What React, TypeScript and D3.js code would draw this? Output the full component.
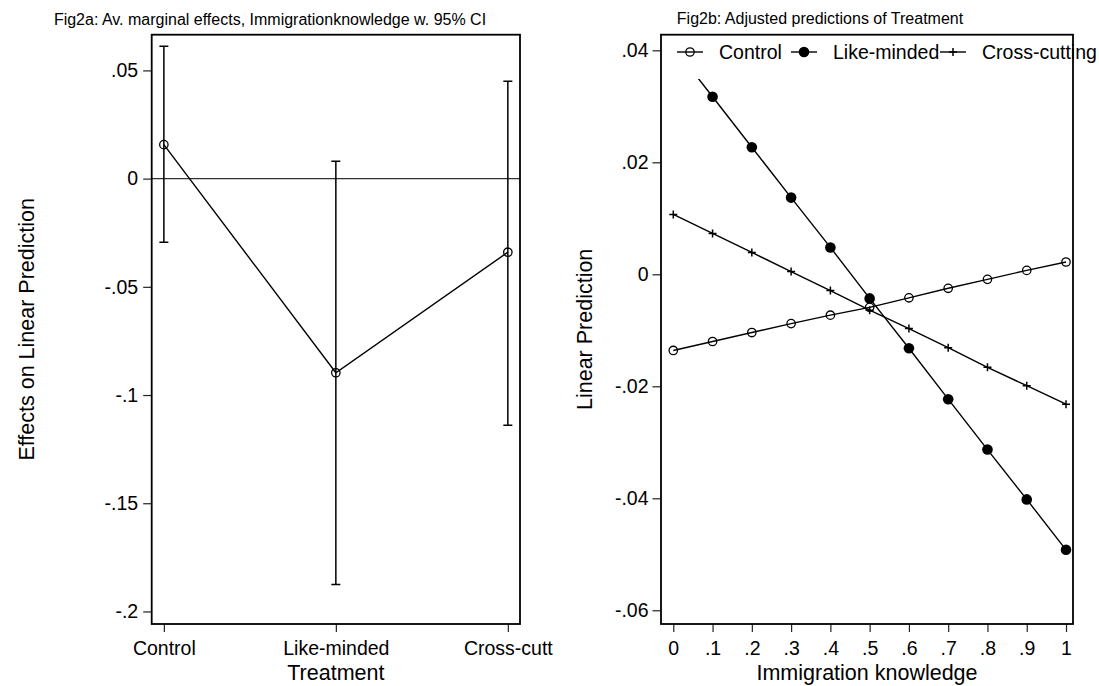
import { useEffect, useRef } from 'react';
import * as d3 from 'd3';

// Fig2a: average marginal effects with 95% CI
const treatments = ["Control", "Like-minded", "Cross-cutting"];
const treatmentLabels = ["Control", "Like-minded", "Cross-cutt"];
const marginalEffect = [0.0157, -0.0897, -0.0340];
const ciLower = [-0.0294, -0.1875, -0.1140];
const ciUpper = [0.0612, 0.0080, 0.0450];
const effectTicks = [0.05, 0, -0.05, -0.1, -0.15, -0.2];
const effectTickLabels = [".05", "0", "-.05", "-.1", "-.15", "-.2"];

// Fig2b: adjusted predictions over immigration knowledge
const knowledge = [0, 0.1, 0.2, 0.3, 0.4, 0.5, 0.6, 0.7, 0.8, 0.9, 1];
const knowledgeTickLabels = ["0", ".1", ".2", ".3", ".4", ".5", ".6", ".7", ".8", ".9", "1"];
const controlPred = [-0.0136, -0.0120, -0.0104, -0.0088, -0.0073, -0.0059, -0.0042, -0.0025, -0.0009, 0.0007, 0.0022];
const likeMindedPred = [0.0407, 0.0317, 0.0227, 0.0137, 0.0048, -0.0043, -0.0132, -0.0223, -0.0313, -0.0402, -0.0492];
const crossCuttingPred = [0.0107, 0.0073, 0.0039, 0.0005, -0.0029, -0.0064, -0.0097, -0.0131, -0.0166, -0.0199, -0.0232];
const predTicks = [0.04, 0.02, 0, -0.02, -0.04, -0.06];
const predTickLabels = [".04", ".02", "0", "-.02", "-.04", "-.06"];
const legendLabels = ["Control", "Like-minded", "Cross-cutting"];

const FONT = "'Liberation Sans', Arial, Helvetica, sans-serif";
const W = 1099, H = 686;

const styleAxis = (g) => {
  g.select(".domain").remove();
  g.attr("font-family", FONT).attr("font-size", 19.5);
  g.selectAll(".tick line").attr("stroke", "#222").attr("stroke-width", 1.2);
  g.selectAll(".tick text").attr("fill", "#000");
};

const drawMarker = (sel, kind, x, y) => {
  if (kind === "hollow") {
    sel.append("circle").attr("cx", x).attr("cy", y).attr("r", 4.2)
      .attr("fill", "none").attr("stroke", "#000").attr("stroke-width", 1.3);
  } else if (kind === "filled") {
    sel.append("circle").attr("cx", x).attr("cy", y).attr("r", 5.3).attr("fill", "#000");
  } else {
    sel.append("path").attr("d", `M${x - 4},${y}H${x + 4}M${x},${y - 4}V${y + 4}`)
      .attr("stroke", "#000").attr("stroke-width", 1.5).attr("fill", "none");
  }
};

const buildChart = (node) => {
  const svg = d3.select(node);
  svg.selectAll("*").remove();

  svg.append("rect").attr("width", W).attr("height", H).attr("fill", "#fff");

  // ---------- left panel ----------
  const L = { left: 151.7, right: 520, top: 34.7, bottom: 624 };
  const x1 = d3.scalePoint().domain(treatments).range([L.left, L.right]).padding(0.0707);
  const y1 = d3.scaleLinear().domain([-0.2058, 0.0665]).range([L.bottom, L.top]);
  const p1 = svg.append("g");

  p1.append("text").attr("x", 270).attr("y", 25).attr("text-anchor", "middle")
    .attr("font-family", FONT).attr("font-size", 16)
    .text("Fig2a: Av. marginal effects, Immigrationknowledge w. 95% CI");

  p1.append("line").attr("x1", L.left).attr("x2", L.right).attr("y1", y1(0)).attr("y2", y1(0))
    .attr("stroke", "#333").attr("stroke-width", 1.3);

  treatments.forEach((t, i) => {
    const cx = x1(t);
    p1.append("path")
      .attr("d", `M${cx - 4.5},${y1(ciUpper[i])}H${cx + 4.5}M${cx},${y1(ciUpper[i])}V${y1(ciLower[i])}M${cx - 4.5},${y1(ciLower[i])}H${cx + 4.5}`)
      .attr("stroke", "#000").attr("stroke-width", 1.5).attr("fill", "none");
  });

  const line1 = d3.line().x((d, i) => x1(treatments[i])).y((d) => y1(d));
  p1.append("path").attr("d", line1(marginalEffect)).attr("fill", "none")
    .attr("stroke", "#000").attr("stroke-width", 1.4);
  marginalEffect.forEach((v, i) => drawMarker(p1, "hollow", x1(treatments[i]), y1(v)));

  p1.append("g").attr("transform", `translate(${L.left},0)`)
    .call(d3.axisLeft(y1).tickValues(effectTicks).tickFormat((d, i) => effectTickLabels[i]).tickSize(8.5).tickPadding(5))
    .call(styleAxis);
  p1.append("g").attr("transform", `translate(0,${L.bottom})`)
    .call(d3.axisBottom(x1).tickFormat((d, i) => treatmentLabels[i]).tickSize(8).tickPadding(9))
    .call(styleAxis);

  p1.append("rect").attr("x", L.left).attr("y", L.top).attr("width", L.right - L.left)
    .attr("height", L.bottom - L.top).attr("fill", "none").attr("stroke", "#000").attr("stroke-width", 1.8);

  p1.append("text").attr("x", (L.left + L.right) / 2).attr("y", 680).attr("text-anchor", "middle")
    .attr("font-family", FONT).attr("font-size", 21.5).text("Treatment");
  p1.append("text").attr("transform", `translate(34,${(L.top + L.bottom) / 2}) rotate(-90)`)
    .attr("text-anchor", "middle").attr("font-family", FONT).attr("font-size", 21.5)
    .text("Effects on Linear Prediction");

  // ---------- right panel ----------
  const R = { left: 661, right: 1073, top: 34.7, bottom: 624 };
  const x2 = d3.scaleLinear().domain([-0.0313, 1.0178]).range([R.left, R.right]);
  const y2 = d3.scaleLinear().domain([-0.06245, 0.04279]).range([R.bottom, R.top]);
  const p2 = svg.append("g");

  p2.append("text").attr("x", 820).attr("y", 24).attr("text-anchor", "middle")
    .attr("font-family", FONT).attr("font-size", 16)
    .text("Fig2b: Adjusted predictions of Treatment");

  const series = [
    { values: controlPred, kind: "hollow" },
    { values: likeMindedPred, kind: "filled" },
    { values: crossCuttingPred, kind: "plus" },
  ];
  const line2 = d3.line().x((d, i) => x2(knowledge[i])).y((d) => y2(d));
  series.forEach((s) => {
    p2.append("path").attr("d", line2(s.values)).attr("fill", "none")
      .attr("stroke", "#000").attr("stroke-width", 1.4);
    s.values.forEach((v, i) => drawMarker(p2, s.kind, x2(knowledge[i]), y2(v)));
  });

  // legend inside plot region (white background)
  p2.append("rect").attr("x", R.left + 1).attr("y", R.top + 1).attr("width", R.right - R.left - 2)
    .attr("height", 79 - R.top - 1).attr("fill", "#fff");
  const legY = 52;
  const keyStarts = [677, 791, 940];
  legendLabels.forEach((lab, i) => {
    const kx = keyStarts[i];
    p2.append("line").attr("x1", kx).attr("x2", kx + 26).attr("y1", legY).attr("y2", legY)
      .attr("stroke", "#000").attr("stroke-width", 1.4);
    drawMarker(p2, series[i].kind, kx + 13, legY);
    p2.append("text").attr("x", kx + 42).attr("y", legY).attr("dy", "0.35em")
      .attr("font-family", FONT).attr("font-size", 19.5).text(lab);
  });

  p2.append("g").attr("transform", `translate(${R.left},0)`)
    .call(d3.axisLeft(y2).tickValues(predTicks).tickFormat((d, i) => predTickLabels[i]).tickSize(8.5).tickPadding(4))
    .call(styleAxis);
  p2.append("g").attr("transform", `translate(0,${R.bottom})`)
    .call(d3.axisBottom(x2).tickValues(knowledge).tickFormat((d, i) => knowledgeTickLabels[i]).tickSize(8).tickPadding(9))
    .call(styleAxis);

  p2.append("rect").attr("x", R.left).attr("y", R.top).attr("width", R.right - R.left)
    .attr("height", R.bottom - R.top).attr("fill", "none").attr("stroke", "#000").attr("stroke-width", 1.8);

  p2.append("text").attr("x", (R.left + R.right) / 2).attr("y", 680).attr("text-anchor", "middle")
    .attr("font-family", FONT).attr("font-size", 21.5).text("Immigration knowledge");
  p2.append("text").attr("transform", `translate(592,${(R.top + R.bottom) / 2}) rotate(-90)`)
    .attr("text-anchor", "middle").attr("font-family", FONT).attr("font-size", 21.5)
    .text("Linear Prediction");
};

const App = () => {
  const ref = useRef(null);

  useEffect(() => {
    buildChart(ref.current);
  }, []);

  return (
    <svg ref={ref} width={W} height={H} viewBox={`0 0 ${W} ${H}`}
      style={{ position: "absolute", left: 0, top: 0, display: "block" }} />
  );
};

export default App;
